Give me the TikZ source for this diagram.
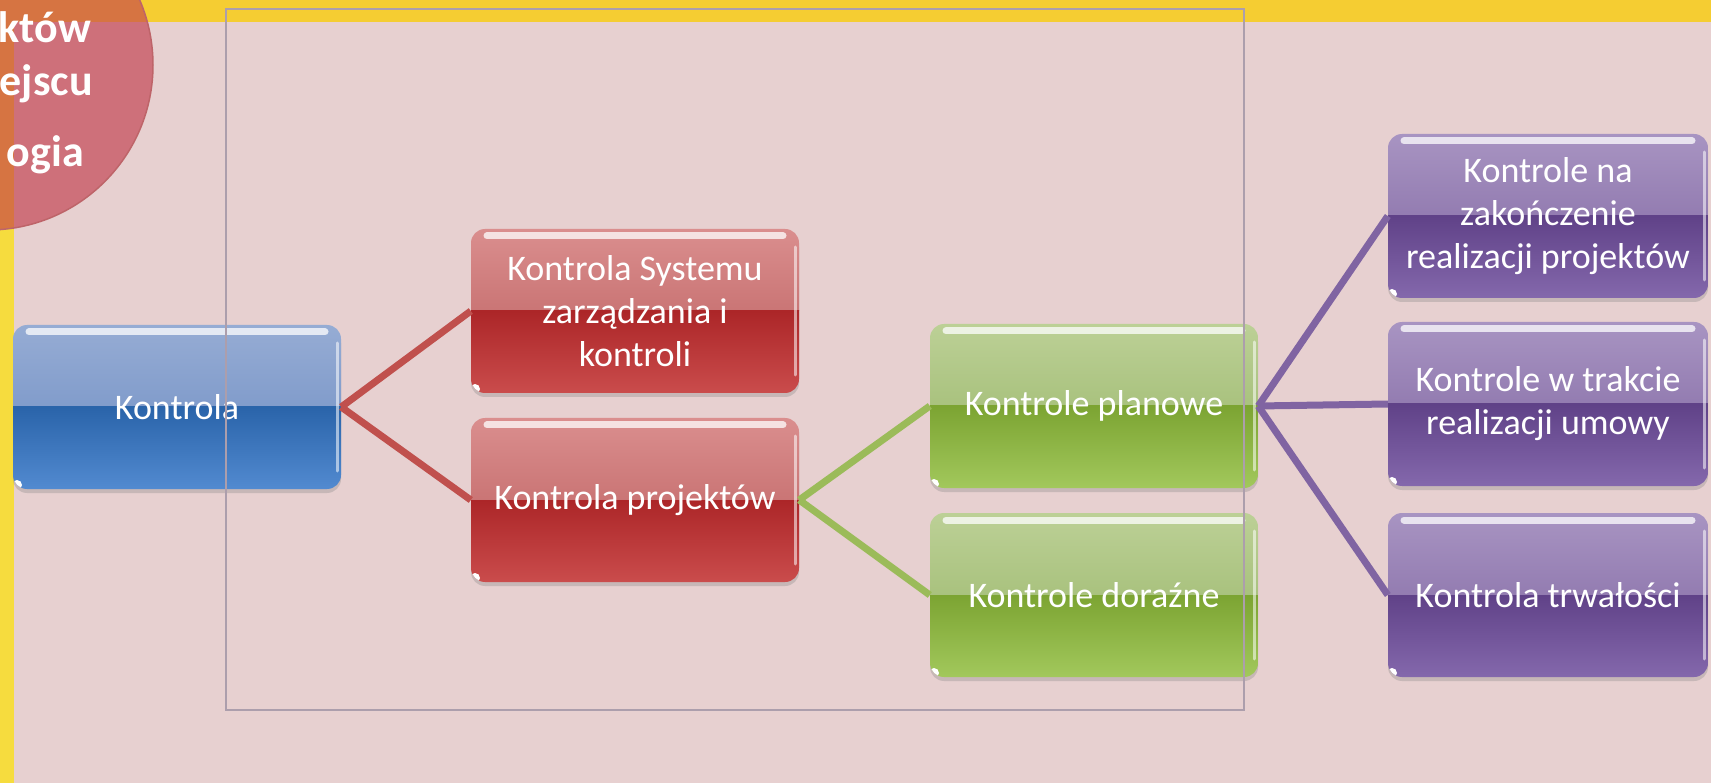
\documentclass[tikz,border=0pt]{standalone}
\usepackage{fontspec}
\setmainfont{Carlito}
\usepackage{tikz}
\usetikzlibrary{shadows}
\definecolor{tlo}{RGB}{231,208,208}
\definecolor{zolty}{RGB}{245,205,50}
\definecolor{zoltyboczny}{RGB}{246,220,62}
\definecolor{kolo}{RGB}{206,112,122}
\definecolor{kolopom}{RGB}{214,116,66}
\definecolor{kolobrzeg}{RGB}{190,100,105}
\definecolor{ramka}{RGB}{172,158,172}
\definecolor{niebA}{RGB}{150,172,212}
\definecolor{niebB}{RGB}{108,140,194}
\definecolor{niebC}{RGB}{42,100,170}
\definecolor{niebD}{RGB}{82,138,208}
\definecolor{czerA}{RGB}{218,142,142}
\definecolor{czerB}{RGB}{186,92,92}
\definecolor{czerC}{RGB}{172,38,40}
\definecolor{czerD}{RGB}{202,76,76}
\definecolor{ziA}{RGB}{188,208,150}
\definecolor{ziB}{RGB}{150,180,102}
\definecolor{ziC}{RGB}{124,164,50}
\definecolor{ziD}{RGB}{162,200,92}
\definecolor{filA}{RGB}{168,148,194}
\definecolor{filB}{RGB}{126,100,160}
\definecolor{filC}{RGB}{96,66,136}
\definecolor{filD}{RGB}{132,104,172}
\definecolor{liniaczer}{RGB}{192,80,77}
\definecolor{liniazi}{RGB}{155,187,89}
\definecolor{liniafil}{RGB}{128,100,162}

\begin{document}
\begin{tikzpicture}[x=1pt,y=-1pt]
  \tikzset{kbox/.style n args={4}{shape=rectangle,rounded corners=14pt,minimum width=328pt,minimum height=164pt,inner sep=2pt,align=center,text=white,font=\fontsize{36}{43}\selectfont,
    drop shadow={opacity=0.3,shadow xshift=0pt,shadow yshift=-4pt},
    path picture={
      \path[sharp corners,top color=#1,bottom color=#2] (path picture bounding box.north west) rectangle (path picture bounding box.east);
      \path[sharp corners,top color=#3,bottom color=#4] (path picture bounding box.west) rectangle (path picture bounding box.south east);
      \draw[sharp corners,white,opacity=0.75,line width=7pt,line cap=round] ([shift={(16pt,-7pt)}]path picture bounding box.north west) -- ([shift={(-16pt,-7pt)}]path picture bounding box.north east);
      \draw[sharp corners,white,opacity=0.55,line width=3pt,line cap=round] ([shift={(-4pt,-18pt)}]path picture bounding box.north east) -- ([shift={(-4pt,18pt)}]path picture bounding box.south east);
      \fill[white] ([shift={(4pt,4pt)}]path picture bounding box.south west) circle (5pt);
    }}}
  \tikzset{nbox/.style = {kbox={niebA}{niebB}{niebC}{niebD}}}
  \tikzset{cbox/.style = {kbox={czerA}{czerB}{czerC}{czerD}}}
  \tikzset{zbox/.style = {kbox={ziA}{ziB}{ziC}{ziD}}}
  \tikzset{fbox/.style = {kbox={filA}{filB}{filC}{filD},minimum width=320pt}}
  \tikzset{edge/.style = {line width=7pt}}
  \tikzset{kolotekst/.style = {text=white,font=\fontsize{44}{50}\selectfont\bfseries,inner sep=0pt,anchor=base east}}

  \useasboundingbox (0,0) rectangle (1711,783);
  \fill[tlo] (0,0) rectangle (1711,783);
  \fill[zolty] (0,0) rectangle (1711,22);
  \fill[zoltyboczny] (0,22) rectangle (14,783);

  % kolo w rogu
  \begin{scope}
    \clip (-12,65) circle (165pt);
    \fill[kolo] (-12,65) circle (165pt);
    \fill[kolopom] (0,0) rectangle (1711,22);
    \fill[kolopom] (0,0) rectangle (14,783);
  \end{scope}
  \draw[kolobrzeg,line width=1.5pt] (-12,65) circle (165pt);
  \node[kolotekst] (T1) at (91,43) {któw};
  \node[kolotekst] (T2) at (93,96) {ejscu};
  \node[kolotekst] (T3) at (84,167) {ogia};

	\node[nbox] (KO) at (177,407) {Kontrola};
	\node[cbox] (KS) at (635,311) {Kontrola Systemu\\zarządzania i\\kontroli};
	\node[cbox] (KP) at (635,500) {Kontrola projektów};
	\node[zbox] (PL) at (1094,406) {Kontrole planowe};
	\node[zbox] (DO) at (1094,595) {Kontrole doraźne};
	\node[fbox] (ZA) at (1548,216) {Kontrole na\\zakończenie\\realizacji projektów};
	\node[fbox] (TR) at (1548,404) {Kontrole w trakcie\\realizacji umowy};
	\node[fbox] (TW) at (1548,595) {Kontrola trwałości};

    \foreach \from/\to in {KO/KS,KO/KP}
    \draw[edge,liniaczer](\from.east) -- (\to.west);

    \foreach \from/\to in {KP/PL,KP/DO}
    \draw[edge,liniazi](\from.east) -- (\to.west);

    \foreach \from/\to in {PL/ZA,PL/TR,PL/TW}
    \draw[edge,liniafil](\from.east) -- (\to.west);

  \draw[ramka,line width=1.5pt] (226,9) rectangle (1244,710);

\end{tikzpicture}
\end{document}
